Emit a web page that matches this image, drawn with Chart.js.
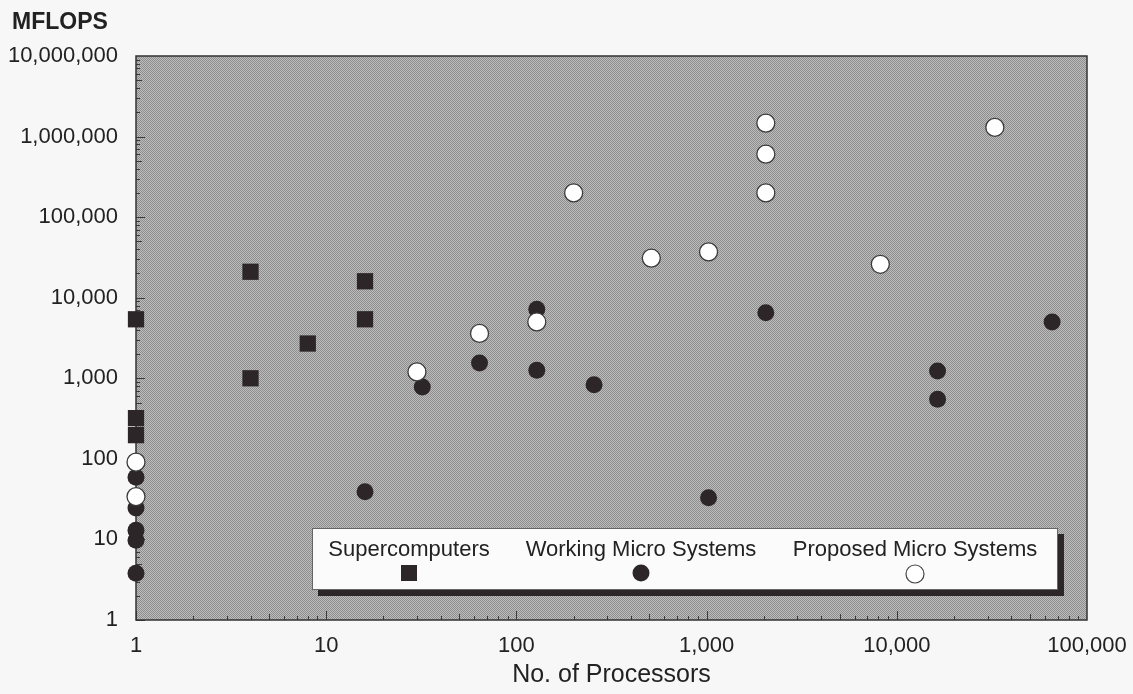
<!DOCTYPE html>
<html>
<head>
<meta charset="utf-8">
<title>MFLOPS vs. No. of Processors</title>
<script src="https://cdn.jsdelivr.net/npm/chart.js@4.4.1/dist/chart.umd.min.js"></script>
<style>
  html, body { margin: 0; padding: 0; background: #f7f7f7; }
  canvas { display: block; }
</style>
</head>
<body>
<canvas id="chart" width="1133" height="694"></canvas>
<script>
// values (both axes log)
const xTicks = [1, 10, 100, 1000, 10000, 100000];
const yTicks = [1, 10, 100, 1000, 10000, 100000, 1000000, 10000000];

const seriesNames = ['Supercomputers', 'Working Micro Systems', 'Proposed Micro Systems'];

const superProcs  = [1, 1, 1, 4, 4, 8, 16, 16];
const superMflops = [5400, 320, 197, 21000, 1000, 2700, 16000, 5400];

const workingProcs  = [1, 1, 1, 1, 1, 16, 32, 64, 128, 128, 256, 1024, 2048, 16384, 16384, 65536];
const workingMflops = [3.8, 9.8, 13, 24.5, 59, 39, 780, 1550, 7200, 1260, 830, 33, 6500, 1230, 550, 5000];

const proposedProcs  = [1, 1, 30, 64, 128, 200, 512, 1024, 2048, 2048, 2048, 8192, 32768];
const proposedMflops = [34, 91, 1200, 3600, 5000, 200000, 31000, 37000, 1470000, 605000, 200000, 26000, 1300000];

const ink = '#2d2629';
const textColor = '#222222';
const fontFamily = '"Liberation Sans", Arial, Helvetica, sans-serif';

function toPoints(xs, ys) {
    return xs.map((x, i) => ({ x: x, y: ys[i] }));
}

// halftone-looking gray for the plot area
function stipple() {
    const c = document.createElement('canvas');
    c.width = 2; c.height = 2;
    const g = c.getContext('2d');
    g.fillStyle = '#bdbdbd';
    g.fillRect(0, 0, 2, 2);
    g.fillStyle = '#8d8d8d';
    g.fillRect(0, 0, 1, 1);
    g.fillRect(1, 1, 1, 1);
    return g.createPattern(c, 'repeat');
}

const plotFrame = {
    id: 'plotFrame',
    beforeDatasetsDraw(chart) {
        const ctx = chart.ctx;
        const a = chart.chartArea;
        const xs = chart.scales.x;
        const ys = chart.scales.y;
        ctx.save();
        ctx.fillStyle = stipple();
        ctx.fillRect(a.left, a.top, a.right - a.left, a.bottom - a.top);

        // minor log ticks on the inside of the left and bottom axes
        ctx.strokeStyle = '#3a3a3a';
        ctx.lineWidth = 1;
        ctx.beginPath();
        for (let d = 1; d < 100000; d *= 10) {
            for (let m = 1; m < 10; m++) {
                const px = Math.round(xs.getPixelForValue(d * m)) + 0.5;
                const len = m === 1 ? 9 : (m === 5 ? 6 : 4);
                ctx.moveTo(px, a.bottom);
                ctx.lineTo(px, a.bottom - len);
            }
        }
        for (let d = 1; d < 10000000; d *= 10) {
            for (let m = 1; m < 10; m++) {
                const py = Math.round(ys.getPixelForValue(d * m)) + 0.5;
                const len = m === 1 ? 9 : (m === 5 ? 6 : 4);
                ctx.moveTo(a.left, py);
                ctx.lineTo(a.left + len, py);
            }
        }
        ctx.stroke();

        ctx.strokeStyle = '#333';
        ctx.lineWidth = 1.5;
        ctx.strokeRect(a.left, a.top, a.right - a.left, a.bottom - a.top);
        ctx.restore();
    }
};

// y axis name sits above the tick labels, and the key box has its marker under each label
const annotations = {
    id: 'annotations',
    afterDraw(chart) {
        const ctx = chart.ctx;
        ctx.save();
        ctx.font = 'bold 23px ' + fontFamily;
        ctx.fillStyle = textColor;
        ctx.textAlign = 'left';
        ctx.textBaseline = 'middle';
        ctx.fillText('MFLOPS', 12, 23);

        const l = 312, t = 528, r = 1058, b = 590;
        ctx.fillStyle = ink;
        ctx.fillRect(l + 6, t + 6, r - l, b - t);
        ctx.fillStyle = '#fbfbfb';
        ctx.fillRect(l, t, r - l, b - t);
        ctx.strokeStyle = '#666';
        ctx.lineWidth = 1;
        ctx.strokeRect(l + 0.5, t + 0.5, r - l - 1, b - t - 1);

        const centers = [409, 641, 915];
        ctx.font = '22px ' + fontFamily;
        ctx.fillStyle = textColor;
        ctx.textAlign = 'center';
        seriesNames.forEach((name, i) => ctx.fillText(name, centers[i], 550));

        ctx.fillStyle = ink;
        ctx.fillRect(centers[0] - 8, 565, 16, 16);
        ctx.beginPath();
        ctx.arc(centers[1], 573, 8.5, 0, Math.PI * 2);
        ctx.fill();
        ctx.beginPath();
        ctx.arc(centers[2], 574, 9, 0, Math.PI * 2);
        ctx.fillStyle = '#ffffff';
        ctx.fill();
        ctx.strokeStyle = '#444';
        ctx.lineWidth = 1.2;
        ctx.stroke();
        ctx.restore();
    }
};

const fmt = v => Number(v).toLocaleString('en-US');

const ctx = document.getElementById('chart').getContext('2d');
const myChart = new Chart(ctx, {
    type: 'scatter',
    data: {
        datasets: [
            {
                label: seriesNames[0],
                data: toPoints(superProcs, superMflops),
                pointStyle: 'rect',
                pointRadius: 11.5,
                backgroundColor: ink,
                borderColor: ink,
                borderWidth: 0,
                clip: false,
                order: 2
            },
            {
                label: seriesNames[1],
                data: toPoints(workingProcs, workingMflops),
                pointStyle: 'circle',
                pointRadius: 8.5,
                backgroundColor: ink,
                borderColor: ink,
                borderWidth: 0,
                clip: false,
                order: 1
            },
            {
                label: seriesNames[2],
                data: toPoints(proposedProcs, proposedMflops),
                pointStyle: 'circle',
                pointRadius: 9,
                backgroundColor: '#ffffff',
                borderColor: '#3a3a3a',
                borderWidth: 1.3,
                clip: false,
                order: 0
            }
        ]
    },
    options: {
        responsive: false,
        animation: false,
        layout: { padding: { left: 4, right: 46, top: 56, bottom: 4 } },
        plugins: {
            legend: { display: false },
            tooltip: { enabled: false },
            title: { display: false }
        },
        scales: {
            x: {
                type: 'logarithmic',
                min: 1,
                max: 100000,
                afterBuildTicks: s => { s.ticks = xTicks.map(v => ({ value: v })); },
                afterFit: s => { s.height = 70; s.paddingLeft = 0; s.paddingRight = 0; },
                ticks: {
                    callback: fmt,
                    color: textColor,
                    font: { family: fontFamily, size: 22 },
                    padding: 13,
                    maxRotation: 0,
                    autoSkip: false
                },
                grid: { display: false, drawTicks: false },
                border: { display: false },
                title: {
                    display: true,
                    text: 'No. of Processors',
                    color: textColor,
                    font: { family: fontFamily, size: 25 },
                    padding: { top: 0, bottom: 0 }
                }
            },
            y: {
                type: 'logarithmic',
                min: 1,
                max: 10000000,
                afterBuildTicks: s => { s.ticks = yTicks.map(v => ({ value: v })); },
                afterFit: s => { s.width = 132; },
                ticks: {
                    callback: fmt,
                    color: textColor,
                    font: { family: fontFamily, size: 22 },
                    padding: 18,
                    autoSkip: false
                },
                grid: { display: false, drawTicks: false },
                border: { display: false }
            }
        }
    },
    plugins: [plotFrame, annotations]
});
</script>
</body>
</html>
